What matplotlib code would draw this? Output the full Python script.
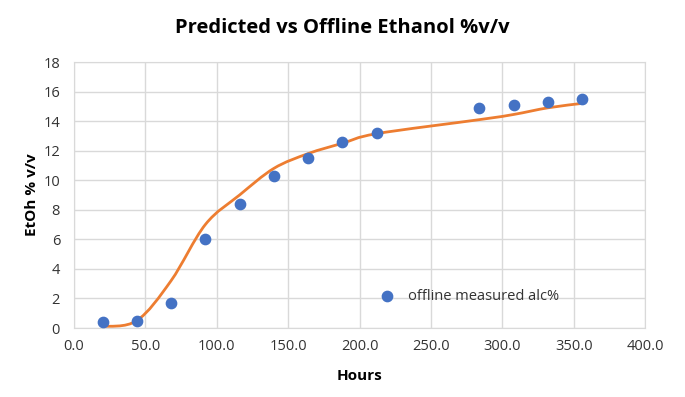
import numpy as np
import matplotlib
matplotlib.use("Agg")
import matplotlib.pyplot as plt
from matplotlib.path import Path
from matplotlib.patches import PathPatch

hours = [20, 44, 68, 92, 116, 140, 164, 188, 212, 284, 308, 332, 356]
offline_measured = [0.38, 0.49, 1.7, 6.0, 8.4, 10.3, 11.5, 12.6, 13.2, 14.9, 15.1, 15.3, 15.5]
predicted = [0.1, 0.5, 3.2, 7.0, 9.0, 10.8, 11.8, 12.5, 13.15, 14.1, 14.45, 14.9, 15.2]
x_ticks = [0, 50, 100, 150, 200, 250, 300, 350, 400]
y_ticks = [0, 2, 4, 6, 8, 10, 12, 14, 16, 18]

plt.rcParams['font.family'] = ['Open Sans', 'DejaVu Sans']

fig = plt.figure(figsize=(6.85, 3.97), dpi=100)
ax = fig.add_axes([74/685, 1-328/397, (645-74)/685, (328-62)/397])

# Excel-style smoothed line: cubic Bezier segments through the predicted points
xs = np.asarray(hours, float)
ys = np.asarray(predicted, float)
n = len(xs)
verts = [(xs[0], ys[0])]
codes = [Path.MOVETO]
for i in range(n - 1):
    p0 = (xs[max(i-1, 0)], ys[max(i-1, 0)])
    p1 = (xs[i], ys[i])
    p2 = (xs[i+1], ys[i+1])
    p3 = (xs[min(i+2, n-1)], ys[min(i+2, n-1)])
    c1 = (p1[0] + (p2[0]-p0[0])/6, p1[1] + (p2[1]-p0[1])/6)
    c2 = (p2[0] - (p3[0]-p1[0])/6, p2[1] - (p3[1]-p1[1])/6)
    verts += [c1, c2, p2]
    codes += [Path.CURVE4]*3
ax.add_patch(PathPatch(Path(verts, codes), facecolor='none', edgecolor='#ED7D31',
                       lw=2.0, zorder=3, capstyle='round', joinstyle='round'))

ax.scatter(hours, offline_measured, s=55, color='#4472C4', zorder=4,
           label='offline measured alc%')

ax.set_xlim(0, 400)
ax.set_ylim(0, 18)
ax.set_xticks(x_ticks)
ax.set_xticklabels([f"{v:.1f}" for v in x_ticks])
ax.set_yticks(y_ticks)
ax.grid(True, color='#d9d9d9', lw=1)
ax.set_axisbelow(True)
for s in ax.spines.values():
    s.set_color('#d9d9d9')
ax.tick_params(length=0, labelsize=10.5, colors='#333333')
ax.tick_params(axis='x', pad=8)
ax.tick_params(axis='y', pad=10)
ax.set_xlabel('Hours', fontsize=11, fontweight='bold', labelpad=11)
ax.set_ylabel('EtOh % v/v', fontsize=11, fontweight='bold', labelpad=3)
fig.text(0.5, 1-28/397, 'Predicted vs Offline Ethanol %v/v', fontsize=14.5,
         fontweight='bold', ha='center', va='center')

ax.legend(loc='center left', bbox_to_anchor=(0.5, 0.12), frameon=False, fontsize=10.5,
          handletextpad=0.4, markerscale=1.0, labelcolor='#333333')

fig.savefig('out.png', dpi=100)
